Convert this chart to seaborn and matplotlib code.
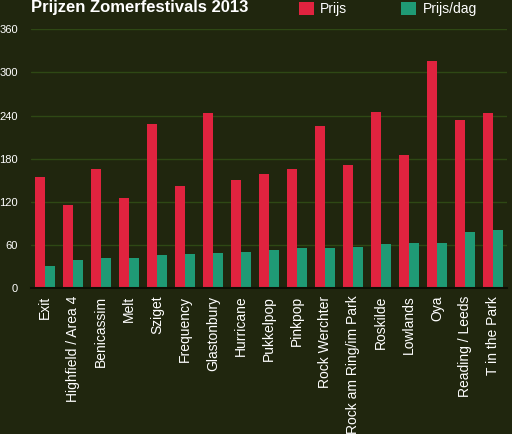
import matplotlib
matplotlib.use("Agg")
import matplotlib.pyplot as plt
import seaborn as sns
import pandas as pd

festivals = ["Exit", "Highfield / Area 4", "Benicassim", "Melt", "Sziget", "Frequency",
             "Glastonbury", "Hurricane", "Pukkelpop", "Pinkpop", "Rock Werchter",
             "Rock am Ring/im Park", "Roskilde", "Lowlands", "Oya", "Reading / Leeds",
             "T in the Park"]
prijs = [155, 116, 166, 125, 228, 142, 243, 150, 159, 165, 225, 171, 245, 185, 316, 234, 243]
prijs_dag = [31, 39, 42, 42, 46, 47, 49, 50, 53, 55, 56, 57, 61, 62, 63, 78, 81]
series = ["Prijs", "Prijs/dag"]
yticks = [0, 60, 120, 180, 240, 300, 360]
title = "Prijzen Zomerfestivals 2013"

BG = "#20260e"
RED = "#e0233f"
GREEN = "#1f9a75"
GRID = "#2e4814"

df = pd.DataFrame({
    "festival": festivals * 2,
    "serie": [series[0]] * len(festivals) + [series[1]] * len(festivals),
    "waarde": prijs + prijs_dag,
})

sns.set_style("dark")
plt.rcParams["font.family"] = ["Liberation Sans", "DejaVu Sans"]

fig = plt.figure(figsize=(5.12, 4.34), dpi=100, facecolor=BG)
ax = fig.add_axes([31 / 512, 1 - 288 / 434, 476 / 512, (288 - 29.3) / 434])
ax.set_facecolor(BG)

sns.barplot(data=df, x="festival", y="waarde", hue="serie", order=festivals,
            hue_order=series, palette=[RED, GREEN], width=0.7, gap=0,
            saturation=1, ax=ax, linewidth=0)

ax.set_ylim(0, 360)
ax.set_xlim(-0.5, len(festivals) - 0.5)
ax.set_yticks(yticks)
ax.set_yticklabels([str(v) for v in yticks], fontsize=8, color="white")
ax.tick_params(axis="y", length=0, pad=9.5)
ax.tick_params(axis="x", length=0, pad=5.5)
ax.set_xticks(range(len(festivals)))
ax.set_xticklabels(festivals, rotation=90, fontsize=10, color="white", va="top", ha="center")
ax.set_xlabel("")
ax.set_ylabel("")
ax.grid(axis="y", color=GRID, linewidth=1)
ax.grid(axis="x", visible=False)
ax.set_axisbelow(True)
for s in ["top", "right", "left"]:
    ax.spines[s].set_visible(False)
ax.spines["bottom"].set_color("#0c0f04")
ax.spines["bottom"].set_linewidth(1.5)

handles, labels = ax.get_legend_handles_labels()
ax.get_legend().remove()
fig.legend(handles, labels, ncol=2, loc="upper left", bbox_to_anchor=(296 / 512, 1.0 + 1 / 434),
           frameon=False, fontsize=10, labelcolor="white", handlelength=1.08,
           handleheight=1.08, handletextpad=0.45, columnspacing=3.9, borderaxespad=0,
           borderpad=0.2)

fig.text(31 / 512, 1 - 12 / 434, title, fontsize=12, fontweight="bold", color="white",
         ha="left", va="baseline")

fig.savefig("out.png", dpi=100, facecolor=BG)
